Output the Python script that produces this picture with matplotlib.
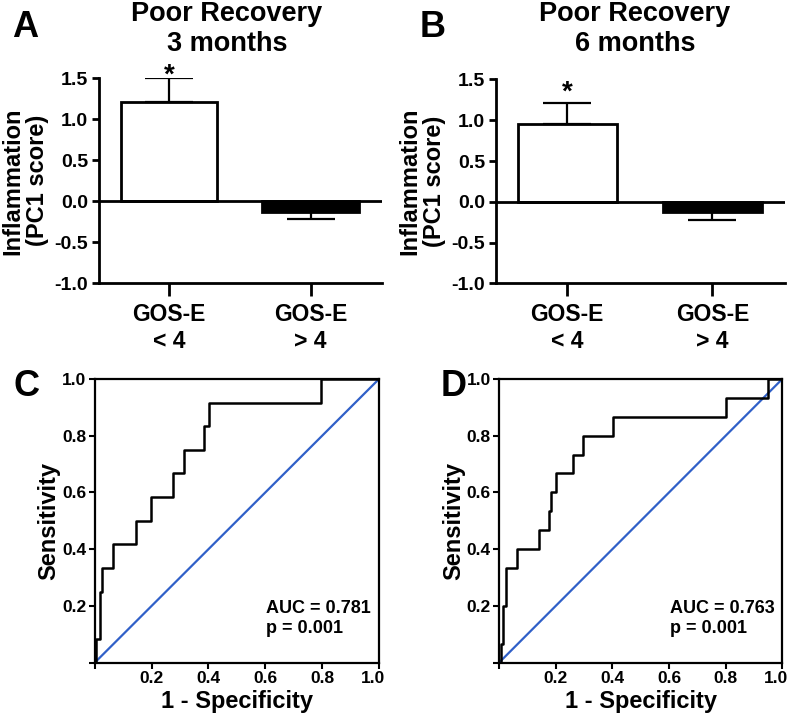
import matplotlib
matplotlib.use("Agg")
import matplotlib.pyplot as plt
from matplotlib.transforms import ScaledTranslation

plt.rcParams["font.family"] = ["Liberation Sans", "DejaVu Sans"]
plt.rcParams["font.weight"] = "bold"

# bar panels (A: 3 months, B: 6 months)
groups = ["GOS-E\n< 4", "GOS-E\n> 4"]
means_3m = [1.21, -0.13]
sems_3m = [0.29, 0.085]
means_6m = [0.95, -0.13]
sems_6m = [0.265, 0.09]
bar_ticks = [-1.0, -0.5, 0.0, 0.5, 1.0, 1.5]

# ROC curves (C: 3 months, D: 6 months) - corner points of the step curves
fpr_3m = [0.005, 0.005, 0.02, 0.025, 0.063, 0.144, 0.197, 0.277, 0.314, 0.386, 0.402, 0.797, 1.0]
tpr_3m = [0.0, 0.083, 0.25, 0.333, 0.417, 0.5, 0.583, 0.667, 0.75, 0.833, 0.917, 1.0, 1.0]
fpr_6m = [0.007, 0.007, 0.015, 0.025, 0.065, 0.140, 0.175, 0.182, 0.201, 0.262, 0.298, 0.401, 0.802, 0.951, 1.0]
tpr_6m = [0.0, 0.067, 0.2, 0.333, 0.4, 0.467, 0.533, 0.6, 0.667, 0.733, 0.8, 0.867, 0.933, 1.0, 1.0]
auc_3m, auc_6m = "0.781", "0.763"
p_3m, p_6m = "0.001", "0.001"
roc_ticks = [0.2, 0.4, 0.6, 0.8, 1.0]

W, H = 792, 716
fig = plt.figure(figsize=(W / 100, H / 100), dpi=100)


def px_axes(x0, y0, x1, y1):
    # pixel box (top-left origin) -> figure axes
    return fig.add_axes([x0 / W, 1 - y1 / H, (x1 - x0) / W, (y1 - y0) / H])


def bar_panel(ax, means, sems, star_y):
    x = [0, 1]
    ax.bar(x[0], means[0], width=0.68, color="white", edgecolor="black", linewidth=2, zorder=2)
    ax.bar(x[1], means[1], width=0.68, color="black", edgecolor="black", linewidth=2, zorder=2)
    ax.errorbar(x[0], means[0], yerr=[[0], [sems[0]]], color="black", lw=1.6,
                capsize=17, capthick=1.6, zorder=3)
    ax.errorbar(x[1], means[1], yerr=[[sems[1]], [0]], color="black", lw=1.6,
                capsize=17, capthick=1.6, zorder=3)
    ax.axhline(0, color="black", lw=2, zorder=4)
    ax.text(x[0], star_y, "*", ha="center", va="baseline", fontsize=20, fontweight="bold")
    ax.set_xlim(-0.49, 1.5)
    ax.set_ylim(-1.0, 1.5)
    ax.set_yticks(bar_ticks)
    ax.set_yticklabels([f"{t:.1f}" for t in bar_ticks], fontsize=14, fontweight="bold")
    ax.set_xticks(x)
    ax.set_xticklabels(groups, fontsize=16.5, fontweight="bold", linespacing=1.25)
    ax.tick_params(axis="y", length=5, width=2, pad=3)
    ax.tick_params(axis="x", length=9, width=2, pad=5)
    for s in ["top", "right"]:
        ax.spines[s].set_visible(False)
    for s in ["left", "bottom"]:
        ax.spines[s].set_linewidth(2)
    ax.set_ylabel("Inflammation\n(PC1 score)", fontsize=17, fontweight="bold", labelpad=4,
                  linespacing=1.1)


def roc_panel(ax, fpr, tpr, auc, p):
    ax.step(fpr, tpr, where="post", color="black", lw=1.8, zorder=3)
    ax.plot([0, 1], [0, 1], color="#3060c8", lw=1.6, zorder=2)
    ax.set_xlim(0, 1)
    ax.set_ylim(0, 1)
    ax.set_xticks([0] + roc_ticks)
    ax.set_xticklabels([""] + [f"{t:.1f}" for t in roc_ticks], fontsize=12.5, fontweight="bold")
    ax.set_yticks([0] + roc_ticks)
    ax.set_yticklabels([""] + [f"{t:.1f}" for t in roc_ticks], fontsize=12.5, fontweight="bold")
    ax.tick_params(length=4, width=1.5, pad=2)
    # the last x label sits a little left of its tick, as in the original
    last = ax.get_xticklabels()[-1]
    last.set_transform(last.get_transform() + ScaledTranslation(-6 / 100, 0, fig.dpi_scale_trans))
    for s in ax.spines.values():
        s.set_linewidth(1.6)
    ax.set_xlabel("1 - Specificity", fontsize=17, fontweight="bold", labelpad=3)
    ax.set_ylabel("Sensitivity", fontsize=17, fontweight="bold", labelpad=1)
    ax.text(0.603, 0.105, f"AUC = {auc}\np = {p}", fontsize=13, fontweight="bold",
            ha="left", va="baseline", linespacing=1.25)


axA = px_axes(99.3, 78.3, 381.7, 283.3)
bar_panel(axA, means_3m, sems_3m, 1.45)
axB = px_axes(496, 79.5, 785, 283.3)
bar_panel(axB, means_6m, sems_6m, 1.25)

axC = px_axes(94.7, 379, 379, 662.7)
roc_panel(axC, fpr_3m, tpr_3m, auc_3m, p_3m)
axD = px_axes(499, 379, 782.3, 662.7)
roc_panel(axD, fpr_6m, tpr_6m, auc_6m, p_6m)

# titles and panel letters
fig.text(227 / W, 1 - 1 / H, "Poor Recovery\n3 months", ha="center", va="top",
         fontsize=19.5, fontweight="bold", linespacing=1.2)
fig.text(635 / W, 1 - 1 / H, "Poor Recovery\n6 months", ha="center", va="top",
         fontsize=19.5, fontweight="bold", linespacing=1.2)
for lbl, x, y in [("A", 12, 37), ("B", 420, 37), ("C", 13, 396), ("D", 441, 396)]:
    fig.text(x / W, 1 - y / H, lbl, ha="left", va="baseline", fontsize=26, fontweight="bold")

fig.savefig("out.png", dpi=100)
